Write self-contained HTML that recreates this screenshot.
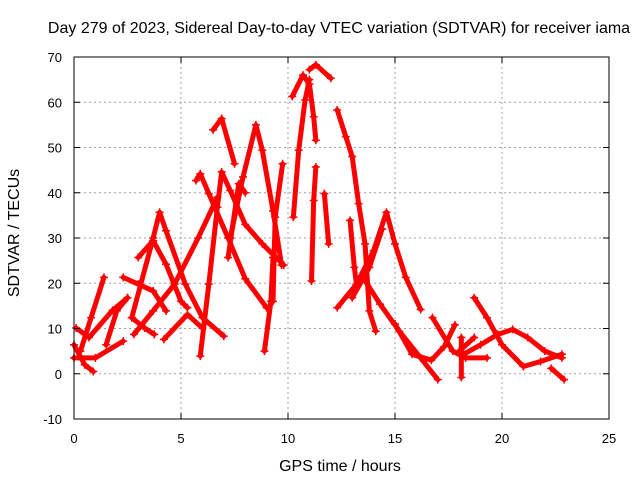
<!DOCTYPE html>
<html><head><meta charset="utf-8"><style>
body{margin:0;background:#fff;}
svg text{font-family:"Liberation Sans",sans-serif;font-size:13px;fill:#000;}
svg text.big{font-size:16px;}
</style></head><body>
<svg id="chart" width="640" height="480" viewBox="0 0 640 480" xmlns="http://www.w3.org/2000/svg">
<text class="big" x="339" y="33" text-anchor="middle">Day 279 of 2023, Sidereal Day-to-day VTEC variation (SDTVAR) for receiver iama</text>
<g id="grid"></g>
<g id="series"></g>
<rect x="74" y="57" width="535" height="362" fill="none" stroke="#000" stroke-width="1"/>
<g id="ticks"></g>
<text class="big" x="340" y="471" text-anchor="middle">GPS time / hours</text>
<text class="big" x="19" y="233" text-anchor="middle" transform="rotate(-90 19 233)">SDTVAR / TECUs</text>
</svg>
<script>
const xTicks=[0,5,10,15,20,25];
const yTicks=[-10,0,10,20,30,40,50,60,70];
const tracks=[
[[0,6.4],[0.5,2],[0.9,0.5]],
[[0,3.5],[1,3.5],[2.3,7.2]],
[[0.1,10.1],[0.7,8],[1.8,14],[2.5,16.8]],
[[0.3,5],[0.8,12.4],[1.4,21.3]],
[[1.5,6.4],[2,13.9],[2.5,16.8]],
[[2.7,12.4],[3.7,30],[4,35.7],[4.3,31.6],[5.2,19.8],[6,12.4],[7,8.3]],
[[2.3,21.3],[3,19.8],[3.7,18.3],[4.3,13.9]],
[[2.8,8.7],[3.7,13.9],[4.7,19.8],[5.8,30],[6.7,39]],
[[3,25.7],[3.7,29.4],[4.3,24.2],[5,16],[5.3,14.6]],
[[4.2,7.6],[5.3,13.1],[6,10.1]],
[[2.7,12.4],[3.3,10.1],[3.75,8.7]],
[[5.9,3.9],[6.3,19.8],[6.7,36.8],[6.9,44.6],[7.3,40.5],[8,33],[8.8,28.7],[9.8,24]],
[[5.7,42.7],[5.9,44.2],[6.3,39.8],[7.2,30],[8,21],[9,14.6]],
[[6.5,53.9],[6.9,56.4],[7.5,46.4]],
[[7.3,30],[7.9,43.5],[8.5,55],[8.8,49.4],[9.3,36],[9.7,24]],
[[7.2,25.7],[7.7,42],[8,40]],
[[8.9,5],[9.2,16],[9.3,25.7]],
[[9.3,16],[9.4,34.6],[9.75,46.4]],
[[10.2,61.3],[10.7,66],[11,64],[11.2,56.8],[11.3,51.6]],
[[11,67.2],[11.3,68.3],[12,65.3]],
[[10.25,34.6],[10.5,49.4],[10.8,60.5],[11,65]],
[[11.1,20.5],[11.2,38.3],[11.3,45.7]],
[[11.7,39.8],[11.9,28.7]],
[[12.3,58.3],[12.7,52.4],[13,48],[13.3,37.6],[13.6,28.7],[13.8,13.9],[14.1,9.4]],
[[12.9,33.9],[13.1,23.5],[13.2,19.8]],
[[12.3,14.6],[13.2,19.8],[14,27.2],[14.6,35.7],[15,28.7],[15.5,21.3],[16.2,14.2]],
[[13,16.8],[13.8,23.5],[14.4,32]],
[[13.5,21.3],[14.3,15.4],[15.2,9.4],[16.2,3.5],[17,-1.3]],
[[15,11],[15.8,4.3],[16.7,3],[17.3,6],[17.8,10.8]],
[[16.75,12.4],[17.7,5],[18.3,3.5],[19.3,3.5]],
[[18.1,-0.8],[18.1,8]],
[[18.2,4.3],[19,6.4],[19.8,8.7],[20.5,9.8],[21.2,8],[22,5],[22.8,3.5]],
[[18.7,16.8],[19.3,12.4],[20,6.4],[21,1.6],[21.8,2.7],[22.8,4.3]],
[[22.3,1.2],[22.9,-1.3]],
[[18.7,8],[18,5]]
];
const NS="http://www.w3.org/2000/svg";
const X0=74,X1=609,Y0=419,Y1=57;
function xs(v){return X0+(v-0)/25*(X1-X0);}
function ys(v){return Y0-(v+10)/80*(Y0-Y1);}
const grid=document.getElementById('grid'),ticks=document.getElementById('ticks'),ser=document.getElementById('series');
function mk(tag,attrs,parent){const e=document.createElementNS(NS,tag);for(const k in attrs)e.setAttribute(k,attrs[k]);parent.appendChild(e);return e;}
xTicks.forEach(t=>{
 const x=xs(t);
 if(t>0&&t<25){const g=mk('line',{x1:x,x2:x,y1:Y1,y2:Y0,stroke:'#a0a0a0','stroke-dasharray':'2,3'},grid);
 
 }
 const a=mk('line',{x1:x,x2:x,y1:Y0,y2:Y0-6,stroke:'#000'},ticks);
 
 
 const b=mk('line',{x1:x,x2:x,y1:Y1,y2:Y1+6,stroke:'#000'},ticks);
 
 
 const l=mk('text',{x:x,y:443,'text-anchor':'middle'},ticks);l.textContent=t;
 
 
});
yTicks.forEach(t=>{
 const y=ys(t);
 if(t>-10&&t<70){const g=mk('line',{x1:X0,x2:X1,y1:y,y2:y,stroke:'#a0a0a0','stroke-dasharray':'2,3'},grid);
 
 }
 const a=mk('line',{x1:X0,x2:X0+6,y1:y,y2:y,stroke:'#000'},ticks);
 
 
 const b=mk('line',{x1:X1,x2:X1-6,y1:y,y2:y,stroke:'#000'},ticks);
 
 
 const l=mk('text',{x:62,y:y+5,'text-anchor':'end'},ticks);l.textContent=t;
 
 
});
tracks.forEach(tr=>{
 const pts=tr.map(p=>xs(p[0])+','+ys(p[1])).join(' ');
 const pl=mk('polyline',{points:pts,fill:'none',stroke:'#ff0000','stroke-width':5,'stroke-linejoin':'round','stroke-linecap':'round'},ser);
 
 
 tr.forEach(p=>{
  const x=xs(p[0]),y=ys(p[1]);
  const m=mk('path',{d:`M${x-4},${y}H${x+4}M${x},${y-4}V${y+4}`,stroke:'#ff0000','stroke-width':1.5},ser);
  
  
 });
});
</script>
</body></html>
